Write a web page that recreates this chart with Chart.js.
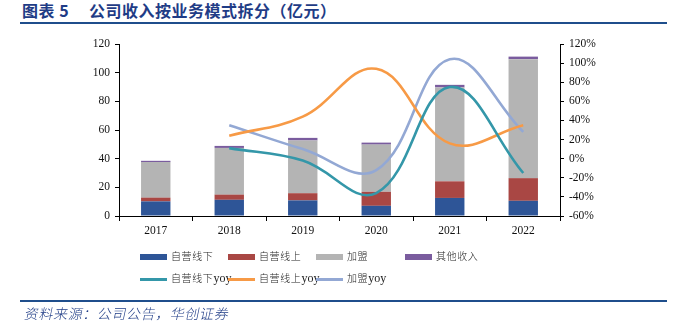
<!DOCTYPE html>
<html>
<head>
<meta charset="utf-8">
<script src="https://cdn.jsdelivr.net/npm/chart.js@4/dist/chart.umd.min.js"></script>
<style>
  html, body { margin: 0; padding: 0; background: #fff; }
  #wrap { position: relative; width: 676px; height: 323px; overflow: hidden; }
  .ttl { position: absolute; top: 0px; font-family: "Noto Sans CJK SC", sans-serif; font-weight: bold; font-size: 16px; color: #1F3C86; white-space: pre; line-height: 20px; letter-spacing: 0.5px; }
  #tline { position: absolute; left: 20px; top: 22px; width: 647px; height: 2px; background: #1F4E8C; }
  #fline { position: absolute; left: 20px; top: 300px; width: 647px; height: 2px; background: #1F4E8C; }
  #foot { position: absolute; left: 23px; top: 303px; font-family: "Noto Sans CJK SC", sans-serif; font-size: 14px; color: #1F3C86; line-height: 20px; letter-spacing: 0.6px; transform: skewX(-12deg); transform-origin: left bottom; font-weight: 300; }
  canvas { position: absolute; left: 0; top: 0; }
  .lg { position: absolute; font-family: "Liberation Serif", serif; font-size: 12px; color: #222; line-height: 14px; white-space: nowrap; }
  .lg .cn { font-family: "Noto Sans CJK SC", sans-serif; font-weight: 300; font-size: 10px; letter-spacing: 0.6px; }
  .sw { position: absolute; }
</style>
</head>
<body>
<div id="wrap">
  <div class="ttl" style="left:22px">图表 5</div>
  <div class="ttl" style="left:89px">公司收入按业务模式拆分（亿元）</div>
  <div id="tline"></div>
  <canvas id="c" width="676" height="323"></canvas>
  <div id="legend"></div>
  <div id="fline"></div>
  <div id="foot">资料来源：公司公告，华创证券</div>
</div>
<script>
const categories = ['2017', '2018', '2019', '2020', '2021', '2022'];
const offlineSelf = [10.2, 11.3, 10.9, 7.1, 12.6, 10.6];
const onlineSelf  = [2.6, 3.6, 5.0, 9.8, 11.6, 15.8];
const franchise   = [24.8, 32.6, 36.8, 32.9, 65.5, 83.0];
const otherIncome = [0.9, 1.4, 1.8, 1.4, 1.8, 1.8];
const offlineYoy  = [null, 11, -2, -36, 75, -15];
const onlineYoy   = [null, 24, 44, 94, 16, 35];
const franchiseYoy= [null, 35, 10, -12, 104, 28];
const leftTicks = [0, 20, 40, 60, 80, 100, 120];
const rightTicks = [-60, -40, -20, 0, 20, 40, 60, 80, 100, 120];

const barNames = ['自营线下', '自营线上', '加盟', '其他收入'];
const barColors = ['#2E5597', '#A94744', '#B4B4B4', '#7A5C9E'];
const lineNames = ['自营线下yoy', '自营线上yoy', '加盟yoy'];
const lineColors = ['#3497A9', '#F79A46', '#93A8D4'];

const barData = [offlineSelf, onlineSelf, franchise, otherIncome];
const lineData = [offlineYoy, onlineYoy, franchiseYoy];

const datasets = [];
lineData.forEach((d, i) => datasets.push({
  type: 'line', label: lineNames[i], data: d, yAxisID: 'y1',
  borderColor: lineColors[i], backgroundColor: lineColors[i], borderWidth: 2.6,
  pointRadius: 0, tension: 0.4, fill: false, order: 0, spanGaps: true
}));
barData.forEach((d, i) => datasets.push({
  type: 'bar', label: barNames[i], data: d, yAxisID: 'y', stack: 's',
  backgroundColor: barColors[i], borderWidth: 0, order: 1,
  barPercentage: 0.4, categoryPercentage: 1.0
}));

const tickFont = { family: 'Liberation Serif', size: 11.5 };
new Chart(document.getElementById('c'), {
  data: { labels: categories, datasets },
  options: {
    responsive: false, animation: false,
    layout: { padding: { left: 0, right: 0, top: 44, bottom: 77 } },
    plugins: { legend: { display: false }, tooltip: { enabled: false } },
    scales: {
      x: {
        stacked: true, offset: true,
        grid: { display: true, drawOnChartArea: false, drawTicks: true, tickLength: 5, color: '#000', offset: true, tickWidth: 1 },
        border: { display: true, color: '#000', width: 1 },
        ticks: { font: tickFont, color: '#111', padding: 3, maxRotation: 0 },
        afterFit: s => { s.height = 30; }
      },
      y: {
        position: 'left', stacked: true, min: 0, max: 120,
        afterBuildTicks: s => { s.ticks = leftTicks.map(v => ({ value: v })); },
        grid: { drawOnChartArea: false, drawTicks: true, tickLength: 4, color: '#000' },
        border: { display: true, color: '#000', width: 1 },
        ticks: { font: tickFont, color: '#111', padding: 5 },
        afterFit: s => { s.width = 119; }
      },
      y1: {
        position: 'right', min: -60, max: 120,
        afterBuildTicks: s => { s.ticks = rightTicks.map(v => ({ value: v })); },
        grid: { drawOnChartArea: false, drawTicks: true, tickLength: 4, color: '#000' },
        border: { display: true, color: '#000', width: 1 },
        ticks: { font: tickFont, color: '#111', padding: 5, callback: v => v + '%' },
        afterFit: s => { s.width = 116; }
      }
    }
  }
});

// custom legend in a fixed grid like the reference
const lg = document.getElementById('legend');
const colX = [140, 228, 316, 405];
function addItem(x, y, color, name, isLine) {
  const sw = document.createElement('div');
  sw.className = 'sw';
  sw.style.left = x + 'px';
  sw.style.width = '27px';
  sw.style.background = color;
  if (isLine) { sw.style.top = (y - 1) + 'px'; sw.style.height = '2.5px'; }
  else { sw.style.top = (y - 3) + 'px'; sw.style.height = '6px'; }
  lg.appendChild(sw);
  const t = document.createElement('div');
  t.className = 'lg';
  t.style.left = (x + 31) + 'px';
  t.style.top = (y - 8) + 'px';
  const m = name.match(/^([^a-z]*)(.*)$/);
  t.innerHTML = '<span class="cn">' + m[1] + '</span>' + m[2];
  lg.appendChild(t);
}
barNames.forEach((n, i) => addItem(colX[i], 257, barColors[i], n, false));
lineNames.forEach((n, i) => addItem(colX[i], 279, lineColors[i], n, true));
</script>
</body>
</html>
